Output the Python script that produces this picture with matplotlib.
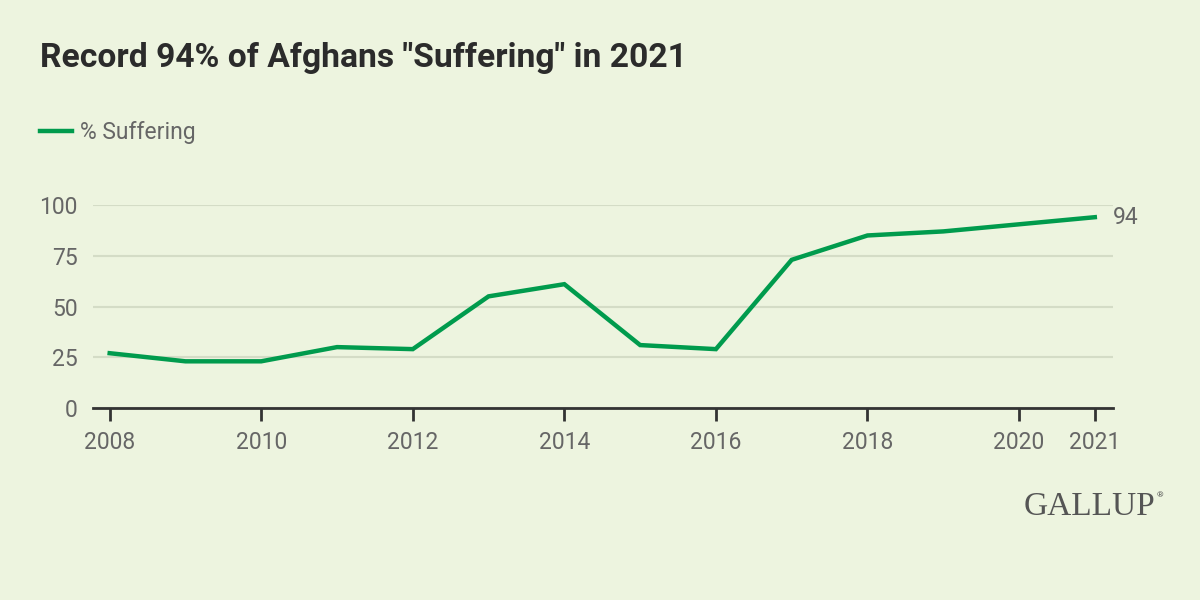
import matplotlib.pyplot as plt

years = [2008, 2009, 2010, 2011, 2012, 2013, 2014, 2015, 2016, 2017, 2018, 2019, 2021]
suffering = [27, 23, 23, 30, 29, 55, 61, 31, 29, 73, 85, 87, 94]
xticks = [2008, 2010, 2012, 2014, 2016, 2018, 2020, 2021]
yticks = [0, 25, 50, 75, 100]

bg = "#edf4df"
green = "#009b4d"
grey = "#666666"

plt.rcParams['font.family'] = ['Roboto', 'DejaVu Sans']

fig = plt.figure(figsize=(12, 6), dpi=100, facecolor=bg)
ax = fig.add_axes([0.0775, 0.32, 0.85, 0.3383])
ax.set_facecolor(bg)

ax.plot(years, suffering, color=green, lw=3.2, solid_joinstyle='miter', zorder=3)
ax.text(years[-1] + 0.24, suffering[-1], str(suffering[-1]), color=grey,
        fontsize=16.5, va='center', ha='left')

ax.set_xlim(2007.78, 2021.24)
ax.set_ylim(0, 100)
ax.set_xticks(xticks)
ax.set_yticks(yticks)
ax.set_xticklabels([str(t) for t in xticks])
ax.grid(axis='y', color='#d4dcc6', lw=1.5)
ax.set_axisbelow(True)
for s in ['top', 'right', 'left']:
    ax.spines[s].set_visible(False)
ax.spines['bottom'].set_color('#333333')
ax.spines['bottom'].set_linewidth(2)
ax.spines['bottom'].set_zorder(4)
ax.tick_params(axis='x', length=9, width=2, color='#333333', labelcolor=grey,
               labelsize=16.5, pad=7.5)
ax.tick_params(axis='y', length=0, labelcolor=grey, labelsize=16.5, pad=11)

fig.text(0.0333, 0.903, 'Record 94% of Afghans "Suffering" in 2021', fontsize=24.2,
         fontweight='bold', color='#2b2b2b', va='center', ha='left')

fig.add_artist(plt.Line2D([0.0333, 0.06], [0.7817, 0.7817], color=green, lw=3.2))
fig.text(0.067, 0.7795, '% Suffering', fontsize=16.5, color=grey, va='center', ha='left')

fig.text(0.9625, 0.155, 'GALLUP', family='Liberation Serif', fontsize=24,
         color='#555555', va='center', ha='right')
fig.text(0.9635, 0.175, '®', fontsize=6, color='#555555', va='center', ha='left')

fig.savefig('out.png', dpi=100, facecolor=bg)
